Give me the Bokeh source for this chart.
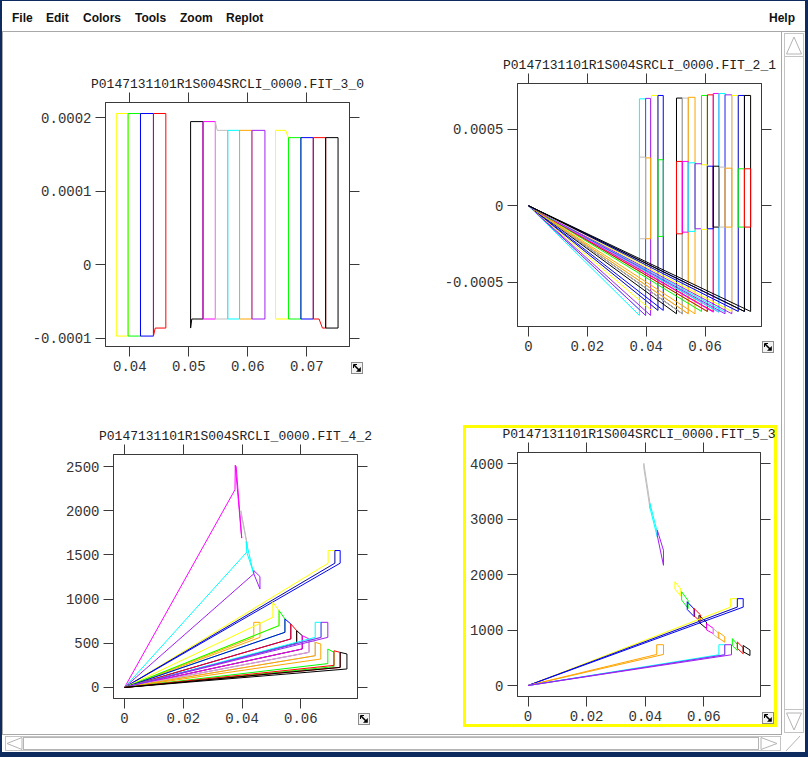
import base64
from bokeh.plotting import figure
from bokeh.models import (LinearAxis, FixedTicker, CustomJSTickFormatter, Range1d,
                          Div, Spacer, ColumnDataSource)
from bokeh.layouts import column, row
from bokeh.embed import file_html
from bokeh.resources import INLINE

# ---------------- colours ----------------
COL = {"yellow": "#ffff00", "green": "#00ff00", "blue": "#0000ff", "red": "#ff0000",
       "black": "#000000", "magenta": "#ff00ff", "grey": "#bebebe", "cyan": "#00ffff",
       "orange": "#ffa500", "purple": "#a020f0"}

# ---------------- panel titles ----------------
TITLES = ["P0147131101R1S004SRCLI_0000.FIT_3_0", "P0147131101R1S004SRCLI_0000.FIT_2_1",
          "P0147131101R1S004SRCLI_0000.FIT_4_2", "P0147131101R1S004SRCLI_0000.FIT_5_3"]

# ---------------- ticks ----------------
P1_XTICKS = [0.04, 0.05, 0.06, 0.07]
P1_XLABELS = ["0.04", "0.05", "0.06", "0.07"]
P1_YTICKS = [-0.0001, 0.0, 0.0001, 0.0002]
P1_YLABELS = ["-0.0001", "0", "0.0001", "0.0002"]
P2_XTICKS = [0.0, 0.02, 0.04, 0.06]
P2_XLABELS = ["0", "0.02", "0.04", "0.06"]
P2_YTICKS = [-0.0005, 0.0, 0.0005]
P2_YLABELS = ["-0.0005", "0", "0.0005"]
P3_YTICKS = [0, 500, 1000, 1500, 2000, 2500]
P3_YLABELS = ["0", "500", "1000", "1500", "2000", "2500"]
P4_YTICKS = [0, 1000, 2000, 3000, 4000]
P4_YLABELS = ["0", "1000", "2000", "3000", "4000"]

# ---------------- panel 1 (FIT_3_0): one closed outline per bin ----------------
P1_XS = [
    [0.0377, 0.0377, 0.0397, 0.0397, 0.0377],
    [0.0397, 0.0397, 0.0418, 0.0418, 0.0397],
    [0.0418, 0.0418, 0.0440, 0.0440, 0.0418],
    [0.0440, 0.0440, 0.0461, 0.0461, 0.0443, 0.0440],
    [0.0503, 0.0503, 0.0524, 0.0524, 0.0505, 0.0503],
    [0.0524, 0.0524, 0.0545, 0.0545, 0.0524],
    [0.0545, 0.0545, 0.0548, 0.0566, 0.0566, 0.0545],
    [0.0566, 0.0566, 0.0586, 0.0586, 0.0566],
    [0.0586, 0.0586, 0.0607, 0.0607, 0.0586],
    [0.0607, 0.0607, 0.0629, 0.0629, 0.0607],
    [0.0647, 0.0647, 0.0664, 0.0669, 0.0669, 0.0647],
    [0.0669, 0.0669, 0.0690, 0.0690, 0.0669],
    [0.0690, 0.0690, 0.0711, 0.0711, 0.0690],
    [0.0711, 0.0711, 0.0732, 0.0732, 0.07265, 0.07208, 0.0711],
    [0.0732, 0.0732, 0.0753, 0.0753, 0.0732],
]
P1_YS = [
    [-0.0000973, 0.0002055, 0.0002055, -0.0000973, -0.0000973],
    [-0.0000973, 0.0002055, 0.0002055, -0.0000973, -0.0000973],
    [-0.0000973, 0.0002055, 0.0002055, -0.0000973, -0.0000973],
    [-0.0000973, 0.0002055, 0.0002055, -0.0000864, -0.0000864, -0.0000973],
    [-0.0000864, 0.0001945, 0.0001945, -0.0000741, -0.0000741, -0.0000864],
    [-0.0000741, 0.0001945, 0.0001945, -0.0000741, -0.0000741],
    [-0.0000741, 0.0001945, 0.0001826, 0.0001826, -0.0000741, -0.0000741],
    [-0.0000741, 0.0001826, 0.0001826, -0.0000741, -0.0000741],
    [-0.0000741, 0.0001826, 0.0001826, -0.0000741, -0.0000741],
    [-0.0000741, 0.0001826, 0.0001826, -0.0000741, -0.0000741],
    [-0.0000741, 0.0001826, 0.0001826, 0.0001727, -0.0000741, -0.0000741],
    [-0.0000741, 0.0001727, 0.0001727, -0.0000741, -0.0000741],
    [-0.0000741, 0.0001727, 0.0001727, -0.0000741, -0.0000741],
    [-0.0000741, 0.0001727, 0.0001727, -0.0000864, -0.0000864, -0.0000741, -0.0000741],
    [-0.0000864, 0.0001727, 0.0001727, -0.0000864, -0.0000864],
]
P1_COLORS = ["yellow", "green", "blue", "red", "black", "magenta", "grey", "cyan",
             "orange", "purple", "yellow", "green", "blue", "red", "black"]

# ---------------- panel 2 (FIT_2_1) ----------------
P2_FULL_XL = [0.0377, 0.0398, 0.0418, 0.0440, 0.0503, 0.0523, 0.0543, 0.0588,
              0.0608, 0.0628, 0.0647, 0.0668, 0.0691, 0.0713, 0.0734]
P2_FULL_XR = [0.0398, 0.0415, 0.0440, 0.0458, 0.0523, 0.0543, 0.0566, 0.0608,
              0.0628, 0.0647, 0.0668, 0.0691, 0.0713, 0.0734, 0.0755]
P2_FULL_TOP = [0.000697, 0.000700, 0.000719, 0.000719, 0.000702, 0.000702, 0.000707,
               0.000719, 0.000723, 0.000732, 0.000732, 0.000723, 0.000719, 0.000719, 0.000719]
P2_FULL_BOT = [-0.000715, -0.000715, -0.000682, -0.000682, -0.000704, -0.000704, -0.000704,
               -0.000689, -0.000689, -0.000693, -0.000693, -0.000704, -0.000689, -0.000689, -0.000689]
P2_FULL_COLORS = ["cyan", "purple", "yellow", "blue", "black", "grey", "orange", "green",
                  "red", "magenta", "cyan", "purple", "yellow", "blue", "black"]
P2_MID_XL = [0.0377, 0.0398, 0.0440, 0.0503, 0.0523, 0.0543, 0.0566, 0.0588, 0.0608,
             0.0628, 0.0647, 0.0668, 0.0713, 0.0734]
P2_MID_XR = [0.0398, 0.0415, 0.0458, 0.0523, 0.0543, 0.0566, 0.0588, 0.0608, 0.0628,
             0.0647, 0.0668, 0.0691, 0.0734, 0.0755]
P2_MID_TOP = [0.000317, 0.000312, 0.000300, 0.000289, 0.000289, 0.000280, 0.000274,
              0.000267, 0.000258, 0.000258, 0.000252, 0.000245, 0.000241, 0.000241]
P2_MID_BOT = [-0.000215, -0.000215, -0.000200, -0.000183, -0.000172, -0.000167, -0.000150,
              -0.000154, -0.000150, -0.000139, -0.000139, -0.000139, -0.000139, -0.000139]
P2_MID_COLORS = ["grey", "orange", "green", "red", "magenta", "cyan", "purple", "yellow",
                 "blue", "black", "grey", "orange", "green", "red"]

# ---------------- panel 3 (FIT_4_2) ----------------
P3_XS = [
    [0, 0.0376, 0.0377, 0.0397, 0.0399, 0.0380, 0.0377],
    [0.0396, 0.0416, 0.0418, 0.0398, 0.0396],
    [0, 0.0416, 0.0414, 0.0438, 0.0440, 0.0416],
    [0, 0.0440, 0.0440, 0.0461, 0.0461, 0.0440],
    [0, 0.0440, 0.0440, 0.0461, 0.0461, 0],
    [0, 0.0693, 0.0693, 0.0716, 0.0716, 0],
    [0, 0.0716, 0.0716, 0.0734, 0.0734, 0],
    [0, 0.0505, 0.0505, 0.0526, 0.0526, 0],
    [0, 0.0526, 0.0526, 0.0546, 0.0546, 0],
    [0, 0.0546, 0.0546, 0.0566, 0.0566, 0],
    [0, 0.0566, 0.0566, 0.0586, 0.0586, 0],
    [0, 0.0586, 0.0586, 0.0605, 0.0605, 0],
    [0, 0.0605, 0.0605, 0.0628, 0.0628, 0],
    [0, 0.0628, 0.0628, 0.0649, 0.0649, 0],
    [0, 0.0649, 0.0649, 0.0668, 0.0668, 0],
    [0, 0.0649, 0.0649, 0.0669, 0.0669, 0],
    [0, 0.0669, 0.0669, 0.0692, 0.0692, 0],
    [0, 0.0692, 0.0692, 0.0713, 0.0713, 0],
    [0, 0.0713, 0.0713, 0.0734, 0.0734, 0],
    [0, 0.0734, 0.0734, 0.0757, 0.0757, 0],
]
P3_YS = [
    [0, 2238, 2513, 1757, 1690, 2500, 2513],
    [2000, 1650, 1600, 1950, 2000],
    [0, 1531, 1650, 1310, 1286, 1531],
    [0, 1286, 1323, 1255, 1115, 1286],
    [0, 567, 737, 737, 567, 0],
    [0, 1406, 1549, 1549, 1406, 0],
    [0, 1406, 1549, 1549, 1406, 0],
    [0, 794, 964, 870, 700, 0],
    [0, 700, 870, 775, 624, 0],
    [0, 624, 775, 719, 549, 0],
    [0, 549, 719, 643, 499, 0],
    [0, 499, 643, 586, 435, 0],
    [0, 435, 586, 549, 397, 0],
    [0, 397, 549, 510, 359, 0],
    [0, 359, 510, 492, 322, 0],
    [0, 567, 737, 737, 567, 0],
    [0, 567, 737, 737, 567, 0],
    [0, 270, 435, 397, 235, 0],
    [0, 250, 415, 397, 227, 0],
    [0, 227, 397, 379, 209, 0],
]
P3_COLORS = ["magenta", "grey", "cyan", "purple", "orange", "yellow", "blue",
             "yellow", "green", "blue", "red", "black", "magenta", "grey", "orange",
             "cyan", "purple", "green", "red", "black"]

# ---------------- panel 4 (FIT_5_3) ----------------
P4_XS = [
    [0.0395, 0.0395, 0.0416, 0.0416, 0.0395],
    [0.0416, 0.0416, 0.0441, 0.0441, 0.0416],
    [0.0441, 0.0441, 0.0462, 0.0462, 0.0441],
    [0.0501, 0.0501, 0.0521, 0.0521, 0.0501],
    [0.0524, 0.0524, 0.0546, 0.0546, 0.0524],
    [0.0543, 0.0543, 0.0568, 0.0568, 0.0543],
    [0.0566, 0.0566, 0.0589, 0.0589, 0.0566],
    [0.0583, 0.0583, 0.0609, 0.0609, 0.0583],
    [0.0609, 0.0609, 0.0632, 0.0632, 0.0609],
    [0.0632, 0.0632, 0.0651, 0.0651, 0.0632],
    [0.0649, 0.0649, 0.0671, 0.0671, 0.0649],
    [0.0697, 0.0697, 0.0714, 0.0714, 0.0697],
    [0.0714, 0.0714, 0.0734, 0.0734, 0.0714],
    [0.0734, 0.0734, 0.0757, 0.0757, 0.0734],
    [0, 0.0691, 0.0691, 0.0714, 0.0714, 0],
    [0, 0.0714, 0.0714, 0.0734, 0.0734, 0],
    [0, 0.0439, 0.0439, 0.0462, 0.0462, 0],
    [0, 0.0651, 0.0651, 0.0671, 0.0671, 0],
    [0, 0.0671, 0.0671, 0.0694, 0.0694, 0],
]
P4_YS = [
    [3920, 4002, 3280, 3190, 3920],
    [3200, 3280, 2760, 2677, 3200],
    [2700, 2798, 2437, 2166, 2700],
    [1740, 1870, 1740, 1610, 1740],
    [1540, 1690, 1530, 1390, 1540],
    [1370, 1510, 1370, 1235, 1370],
    [1260, 1390, 1270, 1145, 1260],
    [1140, 1265, 1140, 1025, 1140],
    [1000, 1115, 1030, 935, 1000],
    [920, 1025, 940, 845, 920],
    [860, 965, 880, 780, 860],
    [720, 845, 740, 632, 720],
    [670, 785, 680, 572, 670],
    [610, 722, 640, 541, 610],
    [0, 1413, 1565, 1565, 1413, 0],
    [0, 1413, 1565, 1565, 1413, 0],
    [0, 560, 735, 735, 560, 0],
    [0, 554, 735, 735, 554, 0],
    [0, 554, 735, 735, 554, 0],
]
P4_COLORS = ["grey", "cyan", "purple", "yellow", "green", "blue", "red", "black",
             "magenta", "grey", "orange", "green", "red", "black",
             "yellow", "blue", "orange", "cyan", "purple"]

NAVY = "#0d2b5e"
AX = "#3a3a3a"
FONT = "Liberation Mono"


def formatter(ticks, labels):
    return CustomJSTickFormatter(args=dict(t=ticks, l=labels), code="""
        let b = 0;
        for (let i = 0; i < t.length; i++) {
            if (Math.abs(t[i] - tick) < Math.abs(t[b] - tick)) { b = i; }
        }
        return l[b];
    """)


BLANK = CustomJSTickFormatter(code="return '';")


def style_axis(ax, show_labels):
    ax.axis_line_color = AX
    ax.major_tick_line_color = AX
    ax.major_tick_in = 0
    ax.major_tick_out = 10
    ax.minor_tick_line_color = None
    ax.major_label_text_font = FONT
    ax.major_label_text_color = "#333333"
    ax.major_label_text_font_size = "14px"
    ax.major_label_standoff = 4 if show_labels else 0


def decor_background(w, h, icon, box=None):
    """SVG drawn behind the figure canvas: the resize icon (and the selection box)."""
    ix, iy = icon
    parts = [f'<svg xmlns="http://www.w3.org/2000/svg" width="{w}" height="{h}">']
    if box is not None:
        bx, by, bw, bh = box
        parts.append(f'<rect x="{bx}" y="{by}" width="{bw}" height="{bh}" fill="none" '
                     f'stroke="#ffff00" stroke-width="3"/>')
    parts.append(
        f'<g transform="translate({ix},{iy})">'
        f'<rect x="0.5" y="0.5" width="11" height="11" fill="#f2f2f2" stroke="#8c8c8c"/>'
        f'<line x1="3" y1="3" x2="8" y2="8" stroke="#000" stroke-width="1.6"/>'
        f'<polygon points="9.8,5 9.8,9.8 5,9.8" fill="#000"/>'
        f'<polyline points="2.5,6 2.5,2.5 6,2.5" fill="none" stroke="#000" stroke-width="1"/>'
        f'</g>')
    parts.append('</svg>')
    b64 = base64.b64encode("".join(parts).encode()).decode()
    return {"background": f"url(data:image/svg+xml;base64,{b64}) no-repeat 0 0, #ffffff"}


def make_fig(w, h, borders, xr, yr, title, xt, xl, yt, yl, icon, box=None):
    l, r, t, b = borders
    p = figure(width=w, height=h, x_range=Range1d(*xr), y_range=Range1d(*yr),
               toolbar_location=None, tools="", output_backend="svg", title=title,
               min_border_left=l, min_border_right=r, min_border_top=t, min_border_bottom=b)
    p.title.text_font = FONT
    p.title.text_font_size = "13px"
    p.title.text_font_style = "normal"
    p.title.text_color = "#222222"
    p.title.align = "center"
    p.title.standoff = 1
    p.grid.visible = False
    p.outline_line_color = AX
    p.background_fill_color = "white"
    p.border_fill_color = None
    p.styles = decor_background(w, h, icon, box)
    p.xaxis.ticker = FixedTicker(ticks=xt)
    p.xaxis.formatter = formatter(xt, xl)
    p.yaxis.ticker = FixedTicker(ticks=yt)
    p.yaxis.formatter = formatter(yt, yl)
    style_axis(p.xaxis[0], True)
    style_axis(p.yaxis[0], True)
    top = LinearAxis(ticker=FixedTicker(ticks=xt), formatter=BLANK)
    right = LinearAxis(ticker=FixedTicker(ticks=yt), formatter=BLANK)
    style_axis(top, False)
    style_axis(right, False)
    p.add_layout(top, "above")
    p.add_layout(right, "right")
    return p


def lines(p, xs, ys, colors):
    src = ColumnDataSource(dict(xs=xs, ys=ys, c=[COL[c] for c in colors]))
    p.multi_line(xs="xs", ys="ys", line_color="c", line_width=1, source=src)


# ---------------- panel 1 ----------------
p1 = make_fig(397, 341, (102, 51, 51, 46), (0.03587, 0.07724), (-0.0001115, 0.0002205),
              TITLES[0], P1_XTICKS, P1_XLABELS, P1_YTICKS, P1_YLABELS, (348, 311))
lines(p1, P1_XS, P1_YS, P1_COLORS)

# ---------------- panel 2 ----------------
p2 = make_fig(381, 360, (117, 20, 51, 66), (-0.00375, 0.0792), (-0.000787, 0.000797),
              TITLES[1], P2_XTICKS, P2_XLABELS, P2_YTICKS, P2_YLABELS, (362, 309))
full_xs = [[0, a, a, b, b, 0] for a, b in zip(P2_FULL_XL, P2_FULL_XR)]
full_ys = [[0, lo, hi, hi, lo, 0] for hi, lo in zip(P2_FULL_TOP, P2_FULL_BOT)]
mid_xs = [[a, a, b, b, a] for a, b in zip(P2_MID_XL, P2_MID_XR)]
mid_ys = [[lo, hi, hi, lo, lo] for hi, lo in zip(P2_MID_TOP, P2_MID_BOT)]
lines(p2, full_xs, full_ys, P2_FULL_COLORS)
lines(p2, mid_xs, mid_ys, P2_MID_COLORS)

# ---------------- panel 3 ----------------
p3 = make_fig(397, 340, (110, 43, 60, 36), (-0.00375, 0.0793), (-125, 2636),
              TITLES[2], P2_XTICKS, P2_XLABELS, P3_YTICKS, P3_YLABELS, (355, 319))
lines(p3, P3_XS, P3_YS, P3_COLORS)

# ---------------- panel 4 ----------------
p4 = make_fig(381, 342, (117, 21, 60, 38), (-0.0036, 0.0793), (-198, 4199),
              TITLES[3], P2_XTICKS, P2_XLABELS, P4_YTICKS, P4_YLABELS, (362, 320),
              box=(64.5, 34.5, 311, 299))
lines(p4, P4_XS, P4_YS, P4_COLORS)

# ---------------- window chrome ----------------
menu_items = [("File", 10), ("Edit", 44), ("Colors", 81), ("Tools", 133),
              ("Zoom", 178), ("Replot", 224), ("Help", 767)]
spans = "".join(
    f'<span style="position:absolute;left:{x}px;top:9px">{t}</span>' for t, x in menu_items)
menu_html = (
    f'<div style="position:relative;width:808px;height:32px;box-sizing:border-box;'
    f'background:#ffffff;border-top:1px solid {NAVY};border-left:2px solid {NAVY};'
    f'border-right:3px solid {NAVY};font-family:\'Liberation Sans\',Arial,sans-serif;'
    f'font-weight:bold;font-size:12px;color:#111;">{spans}'
    f'<div style="position:absolute;left:0;right:0;bottom:0;height:1px;background:#a8a8a8"></div>'
    f'</div>')
menu = Div(text=menu_html, width=808, height=32, margin=0)

left_edge = Div(text=(f'<svg width="3" height="702" style="display:block">'
                      f'<rect x="0" y="0" width="2" height="702" fill="{NAVY}"/>'
                      f'<rect x="2" y="0" width="1" height="702" fill="#a8a8a8"/></svg>'),
                width=3, height=702, margin=0)

vscroll = Div(text=(
    f'<svg width="27" height="702" style="display:block">'
    f'<rect x="0" y="0" width="27" height="702" fill="#ffffff"/>'
    f'<rect x="0" y="0" width="1" height="702" fill="#a8a8a8"/>'
    f'<rect x="3.5" y="1.5" width="19" height="699" fill="#ffffff" stroke="#c4c4c4"/>'
    f'<polygon points="5.5,22 13,5 20.5,22" fill="#ffffff" stroke="#b4b4b4"/>'
    f'<line x1="3.5" y1="24.5" x2="22.5" y2="24.5" stroke="#c4c4c4"/>'
    f'<line x1="3.5" y1="677.5" x2="22.5" y2="677.5" stroke="#c4c4c4"/>'
    f'<polygon points="5.5,681 13,698 20.5,681" fill="#ffffff" stroke="#b4b4b4"/>'
    f'<rect x="24" y="0" width="3" height="702" fill="{NAVY}"/></svg>'),
    width=27, height=702, margin=0)

hscroll = Div(text=(
    f'<svg width="808" height="23" style="display:block">'
    f'<rect x="0" y="0" width="808" height="23" fill="#ffffff"/>'
    f'<rect x="0" y="0" width="2" height="23" fill="{NAVY}"/>'
    f'<rect x="805" y="0" width="3" height="23" fill="{NAVY}"/>'
    f'<rect x="0" y="18" width="808" height="5" fill="{NAVY}"/>'
    f'<rect x="2" y="0" width="780" height="1" fill="#a8a8a8"/>'
    f'<rect x="5.5" y="2.5" width="775" height="14" fill="#ffffff" stroke="#c4c4c4"/>'
    f'<polygon points="22,3.5 7,9.5 22,15.5" fill="#ffffff" stroke="#b4b4b4"/>'
    f'<rect x="23.5" y="3.5" width="735" height="12" fill="#ffffff" stroke="#b4b4b4"/>'
    f'<polygon points="761,3.5 777,9.5 761,15.5" fill="#ffffff" stroke="#b4b4b4"/>'
    f'<line x1="786" y1="17" x2="800" y2="2" stroke="#b4b4b4"/>'
    f'</svg>'),
    width=808, height=23, margin=0)

top_row = row(column(Spacer(width=397, height=19), p1), p2)
bottom_row = row(column(Spacer(width=397, height=2), p3), p4)
grid = column(top_row, bottom_row)
root = column(menu, row(left_edge, grid, vscroll), hscroll)

open("out.html", "w").write(file_html(root, INLINE))
